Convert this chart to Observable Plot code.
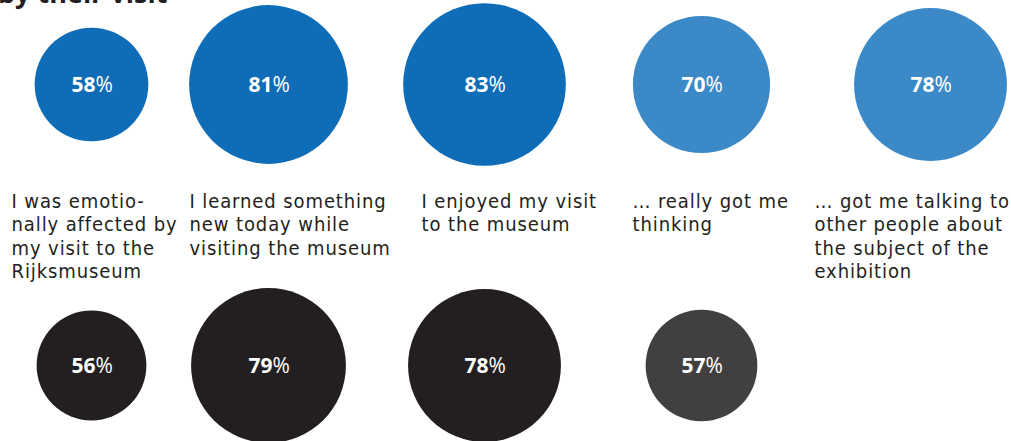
<!DOCTYPE html>
<html>
<head>
<meta charset="utf-8">
<script src="https://cdn.jsdelivr.net/npm/d3@7"></script>
<script src="https://cdn.jsdelivr.net/npm/@observablehq/plot@0.6"></script>
<style>
  html, body { margin: 0; padding: 0; background: #fff; overflow: hidden; }
  #wrap { position: relative; width: 1011px; height: 441px; }
  #title { position: absolute; left: -2px; top: -21px; font-family: "Open Sans", sans-serif; font-weight: 700;
           font-size: 27px; line-height: 1; color: #231f20; white-space: nowrap; }
  #chart { position: absolute; left: 0; top: 0; }
</style>
</head>
<body>
<div id="wrap">
  <div id="chart"></div>
  <div id="title">by their visit</div>
</div>
<script>
// ---- data ----
const statements = [
  "I was emotio-\nnally affected by\nmy visit to the\nRijksmuseum",
  "I learned something\nnew today while\nvisiting the museum",
  "I enjoyed my visit\nto the museum",
  "… really got me\nthinking",
  "… got me talking to\nother people about\nthe subject of the\nexhibition"
];
const statementKind = ["museum", "museum", "museum", "exhibition", "exhibition"];
const topRowValues = [58, 81, 83, 70, 78];       // blue row
const bottomRowValues = [56, 79, 78, 57, null];  // black row

// ---- layout (not data) ----
const layout = {
  colCenter: [91, 268, 484, 701, 930],
  labelLeft: [11, 189, 421, 632, 814],
  rowCenter: {top: 84, bottom: 365},
  labelTop: 191
};
const fills = {
  top: {museum: "#0f6cb7", exhibition: "url(#ditherBlue)"},
  bottom: {museum: "#231f20", exhibition: "url(#ditherBlack)"}
};
const labelFont = "'DejaVu Sans Condensed', 'DejaVu Sans', sans-serif";

const table = statements.flatMap((s, i) => [
  {i, statement: s, row: "top", value: topRowValues[i], kind: statementKind[i]},
  {i, statement: s, row: "bottom", value: bottomRowValues[i], kind: statementKind[i]}
]).filter(d => d.value != null);

const X = d => layout.colCenter[d.i];
const Y = d => layout.rowCenter[d.row];

const dotMarks = [];
for (const row of ["top", "bottom"]) {
  for (const kind of ["museum", "exhibition"]) {
    dotMarks.push(Plot.dot(table, {
      filter: d => d.row === row && d.kind === kind,
      x: X, y: Y, r: "value", fill: fills[row][kind]
    }));
  }
}

const chart = Plot.plot({
  width: 1011,
  height: 441,
  margin: 0,
  style: {fontFamily: "'Open Sans', sans-serif", background: "transparent"},
  x: {type: "identity", axis: null},
  y: {type: "identity", axis: null},
  r: {type: "linear", domain: [0, 100], range: [0, 98]},
  marks: [
    ...dotMarks,
    Plot.text(table, {
      x: X, y: Y, text: d => String(d.value), textAnchor: "end", dx: 4, dy: 1,
      fontWeight: "bold", fontSize: 21, fill: "white"
    }),
    Plot.text(table, {
      x: X, y: Y, text: () => "%", textAnchor: "start", dx: 4, dy: 1,
      fontWeight: "normal", fontSize: 21, fill: "white"
    }),
    Plot.text(statements, {
      x: (d, i) => layout.labelLeft[i], y: () => layout.labelTop,
      text: d => d, textAnchor: "start", lineAnchor: "top",
      fontFamily: labelFont,
      fontSize: 20, lineHeight: 1.165, fill: "#231f20"
    })
  ]
});

// slight tracking on the statement labels
d3.select(chart).selectAll('g[aria-label="text"]')
  .filter(function () { return (this.getAttribute("font-family") || "").includes("DejaVu"); })
  .attr("letter-spacing", "0.9px");

// dither patterns
const ns = "http://www.w3.org/2000/svg";
const defs = document.createElementNS(ns, "defs");
function pattern(id, base, light) {
  const p = document.createElementNS(ns, "pattern");
  p.setAttribute("id", id);
  p.setAttribute("width", 2); p.setAttribute("height", 2);
  p.setAttribute("patternUnits", "userSpaceOnUse");
  const r1 = document.createElementNS(ns, "rect");
  r1.setAttribute("width", 2); r1.setAttribute("height", 2); r1.setAttribute("fill", base);
  const r2 = document.createElementNS(ns, "rect");
  r2.setAttribute("width", 1); r2.setAttribute("height", 1); r2.setAttribute("fill", light);
  p.appendChild(r1); p.appendChild(r2);
  defs.appendChild(p);
}
pattern("ditherBlue", "#1470bb", "#b4d3ef");
pattern("ditherBlack", "#231f20", "#a0a0a0");
chart.insertBefore(defs, chart.firstChild);

document.getElementById("chart").appendChild(chart);
</script>
</body>
</html>
